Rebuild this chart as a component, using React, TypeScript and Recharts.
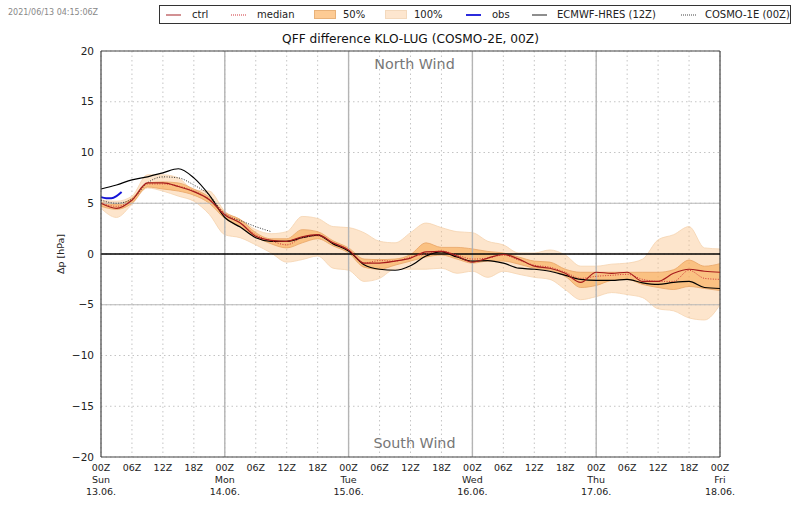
import React from 'react';
import { ComposedChart, Area, Line, XAxis, YAxis, CartesianGrid, ReferenceLine } from 'recharts';

// 3-hourly steps from Sun 13.06. 00Z
const hours = [0, 3, 6, 9, 12, 15, 18, 21, 24, 27, 30, 33, 36, 39, 42, 45, 48, 51, 54, 57, 60, 63, 66, 69, 72, 75, 78, 81, 84, 87, 90, 93, 96, 99, 102, 105, 108, 111, 114, 117, 120];

const ctrl = [5.0, 4.5, 5.3, 7.0, 7.0, 6.65, 6.15, 5.35, 3.85, 3.05, 1.75, 1.35, 1.25, 1.7, 1.9, 1.1, 0.4, -0.9, -0.9, -0.7, -0.4, 0.2, 0.25, -0.2, -0.8, -0.4, -0.05, -0.5, -1.2, -1.4, -1.9, -2.8, -1.8, -1.9, -1.8, -2.7, -2.7, -1.9, -1.5, -1.7, -1.8];
const median = [5.0, 4.7, 5.3, 6.9, 6.9, 6.7, 6.2, 5.4, 4.0, 3.1, 1.9, 1.3, 0.9, 1.6, 1.8, 1.1, 0.4, -0.9, -0.65, -0.7, -0.3, 0.0, 0.3, -0.1, -0.5, -0.4, -0.1, -0.6, -1.1, -1.3, -1.8, -2.4, -2.2, -2.1, -2.0, -2.5, -2.7, -2.7, -1.6, -2.4, -2.5];
const q50High = [5.1, 4.9, 5.5, 7.0, 7.1, 7.0, 6.4, 5.6, 4.1, 3.4, 2.1, 1.5, 1.5, 2.4, 2.2, 1.3, 0.6, -0.5, -0.55, -0.5, -0.05, 1.1, 0.65, 0.65, 0.5, 0.25, 0.1, -0.3, -0.7, -0.8, -1.5, -1.8, -1.8, -1.8, -1.8, -1.8, -1.8, -1.55, -0.6, -1.2, -0.95];
const q50Low = [4.7, 4.4, 5.0, 6.6, 6.4, 6.2, 5.8, 5.0, 3.5, 2.7, 1.7, 1.0, 0.6, 1.1, 1.5, 0.8, 0.1, -1.3, -1.5, -1.1, -0.7, -0.3, -0.1, -0.5, -0.9, -0.7, -0.7, -1.0, -1.4, -1.6, -2.2, -3.3, -3.1, -2.6, -2.5, -3.0, -3.3, -3.5, -3.2, -3.4, -3.6];
const fullHigh = [5.3, 5.2, 5.7, 7.8, 7.8, 7.5, 6.3, 6.2, 4.2, 3.4, 2.4, 2.0, 2.2, 3.7, 3.5, 2.7, 2.6, 2.1, 1.25, 1.1, 2.1, 3.05, 2.6, 2.2, 2.1, 1.25, 0.9, 0.1, 0.1, 0.4, -0.1, -1.2, -1.2, -1.0, -0.9, -0.5, 1.4, 1.9, 2.7, 0.6, 0.5];
const fullLow = [4.5, 3.6, 4.9, 6.5, 6.2, 5.7, 5.2, 3.9, 1.9, 1.6, 0.9, 0.1, -0.8, -0.55, -0.2, -1.4, -1.6, -2.7, -2.4, -1.5, -1.5, -1.5, -1.4, -1.9, -1.7, -2.3, -1.7, -2.0, -2.3, -2.5, -3.5, -4.5, -4.2, -3.8, -4.0, -4.3, -5.4, -5.6, -6.3, -6.5, -5.0];
const ecmwf = [6.4, 6.8, 7.3, 7.6, 8.0, 8.4, 7.5, 5.8, 3.6, 2.65, 1.6, 1.25, 1.25, 1.6, 1.85, 1.0, 0.3, -1.05, -1.5, -1.6, -1.15, -0.2, 0.2, -0.3, -0.7, -0.65, -0.9, -1.4, -1.5, -1.7, -2.1, -2.5, -2.6, -2.6, -2.5, -2.85, -3.0, -2.8, -2.7, -3.3, -3.4];
const cosmo1 = [5.3, 5.0, 5.4, 7.0, 7.6, 7.5, 6.8, 5.8, 3.9, 3.3, 2.7, 2.2];

const obsHours = [0, 1, 2, 3, 4];
const obsValues = [5.6, 5.5, 5.5, 5.7, 6.1];

const yTicks = [-20, -15, -10, -5, 0, 5, 10, 15, 20];
const xTicks = [0, 6, 12, 18, 24, 30, 36, 42, 48, 54, 60, 66, 72, 78, 84, 90, 96, 102, 108, 114, 120];
const hourLabels = ['00Z', '06Z', '12Z', '18Z'];
const dayNames = ['Sun', 'Mon', 'Tue', 'Wed', 'Thu', 'Fri'];
const dayDates = ['13.06.', '14.06.', '15.06.', '16.06.', '17.06.', '18.06.'];
const dayStarts = [0, 24, 48, 72, 96, 120];
const strongY = [-5, 5];

const table = hours.map((h, i) => ({
  hour: h,
  ctrl: ctrl[i],
  median: median[i],
  band50: [q50Low[i], q50High[i]],
  band100: [fullLow[i], fullHigh[i]],
  ecmwf: ecmwf[i],
  cosmo1: i < cosmo1.length ? cosmo1[i] : null,
}));
const obsTable = obsHours.map((h, i) => ({ hour: h, obs: obsValues[i] }));

const FONT = '"DejaVu Sans", sans-serif';
const TEXT = '#222';

function HourTick({ x, y, payload }: any) {
  const h = payload.value;
  const day = dayStarts.indexOf(h);
  return (
    <text x={x} y={y} textAnchor="middle" fontSize={9.5} fill={TEXT} fontFamily={FONT}>
      <tspan x={x} dy={6}>{hourLabels[(h % 24) / 6]}</tspan>
      {day >= 0 && <tspan x={x} dy={12}>{dayNames[day]}</tspan>}
      {day >= 0 && <tspan x={x} dy={12}>{dayDates[day]}</tspan>}
    </text>
  );
}

function LegendText({ x, children }: any) {
  return <span style={{ position: 'absolute', left: x, top: 2, fontSize: 10, color: TEXT, lineHeight: '14px', whiteSpace: 'nowrap' }}>{children}</span>;
}

function LegendLine({ x, color, dash, width = 1.2 }: any) {
  return (
    <svg width={16} height={4} style={{ position: 'absolute', left: x, top: 7 }}>
      <line x1={0} x2={15} y1={2} y2={2} stroke={color} strokeWidth={width} strokeDasharray={dash} />
    </svg>
  );
}

function LegendPatch({ x, color, border }: any) {
  return <span style={{ position: 'absolute', left: x, top: 4, width: 20, height: 7, background: color, border: `1px solid ${border}` }} />;
}

function ChartLegend() {
  return (
    <div style={{ position: 'absolute', left: 159, top: 5, width: 630, height: 17, border: '1px solid #333', background: '#fff' }}>
      <LegendLine x={6} color="#b5484c" />
      <LegendText x={32}>ctrl</LegendText>
      <LegendLine x={71} color="#d0353a" dash="1 1" />
      <LegendText x={97}>median</LegendText>
      <LegendPatch x={154} color="#fdcb94" border="#e8b27a" />
      <LegendText x={183}>50%</LegendText>
      <LegendPatch x={225} color="#fde6cf" border="#f3d9bd" />
      <LegendText x={254}>100%</LegendText>
      <LegendLine x={306} color="#1414d8" width={1.8} />
      <LegendText x={332}>obs</LegendText>
      <LegendLine x={372} color="#444" />
      <LegendText x={397}>ECMWF-HRES (12Z)</LegendText>
      <LegendLine x={521} color="#444" dash="1 1" />
      <LegendText x={545}>COSMO-1E (00Z)</LegendText>
    </div>
  );
}

export default function App() {
  return (
    <div style={{ position: 'absolute', left: 0, top: 0, width: 800, height: 509, background: '#fff', fontFamily: FONT }}>
      <ComposedChart width={800} height={509} data={table} margin={{ top: 51, right: 80, bottom: 0, left: 61 }}>
        <CartesianGrid stroke="#c4c4c4" strokeDasharray="1.5 3" />
        <XAxis
          dataKey="hour"
          type="number"
          domain={[0, 120]}
          ticks={xTicks}
          interval={0}
          height={52}
          tick={<HourTick />}
          tickLine={false}
          axisLine={{ stroke: '#444', strokeWidth: 1.2 }}
        />
        <YAxis
          type="number"
          domain={[-20, 20]}
          ticks={yTicks}
          interval={0}
          width={40}
          tickLine={false}
          tickMargin={1}
          axisLine={{ stroke: '#444', strokeWidth: 1.2 }}
          tick={{ fontSize: 10.5, fill: TEXT, fontFamily: FONT }}
          tickFormatter={(v: number) => String(v).replace('-', '\u2212')}
          label={{ value: '\u0394p [hPa]', angle: -90, position: 'insideLeft', offset: 0, style: { fontSize: 9.5, fill: TEXT, fontFamily: FONT, textAnchor: 'middle' } }}
        />
        {dayStarts.slice(1, 5).map((h) => (
          <ReferenceLine key={h} x={h} stroke="#b4b4b4" strokeWidth={1.4} />
        ))}
        {strongY.map((v) => (
          <ReferenceLine key={v} y={v} stroke="#b8b8b8" strokeWidth={1.2} />
        ))}
        <ReferenceLine y={20} stroke="#444" strokeWidth={1.2} />
        <ReferenceLine x={120} stroke="#444" strokeWidth={1.2} />
        <Area dataKey="band100" type="monotoneX" fill="#fbc68e" fillOpacity={0.45} stroke="#f5d3ae" strokeWidth={0.8} isAnimationActive={false} dot={false} activeDot={false} />
        <Area dataKey="band50" type="monotoneX" fill="#f8a850" fillOpacity={0.6} stroke="#e8a566" strokeWidth={0.8} isAnimationActive={false} dot={false} activeDot={false} />
        <ReferenceLine y={0} stroke="#000" strokeWidth={1.4} />
        <Line dataKey="cosmo1" type="monotoneX" stroke="#333" strokeWidth={1} strokeDasharray="1 1.5" dot={false} activeDot={false} isAnimationActive={false} />
        <Line dataKey="ecmwf" type="monotoneX" stroke="#000" strokeWidth={1.2} dot={false} activeDot={false} isAnimationActive={false} />
        <Line dataKey="median" type="monotoneX" stroke="#d0353a" strokeWidth={1} strokeDasharray="1 1.5" dot={false} activeDot={false} isAnimationActive={false} />
        <Line dataKey="ctrl" type="monotoneX" stroke="#a61c1c" strokeWidth={1.2} dot={false} activeDot={false} isAnimationActive={false} />
        <Line data={obsTable} dataKey="obs" type="monotoneX" stroke="#1414d8" strokeWidth={2} dot={false} activeDot={false} isAnimationActive={false} />
      </ComposedChart>
      <div style={{ position: 'absolute', left: 8, top: 8, fontSize: 8, color: '#888', whiteSpace: 'nowrap' }}>2021/06/13 04:15:06Z</div>
      <ChartLegend />
      <div style={{ position: 'absolute', left: 101, width: 619, top: 32, textAlign: 'center', fontSize: 12.2, color: '#111', whiteSpace: 'nowrap' }}>QFF difference KLO-LUG (COSMO-2E, 00Z)</div>
      <div style={{ position: 'absolute', left: 105, width: 619, top: 56, textAlign: 'center', fontSize: 14.3, color: '#777' }}>North Wind</div>
      <div style={{ position: 'absolute', left: 105, width: 619, top: 435, textAlign: 'center', fontSize: 14.3, color: '#777' }}>South Wind</div>
    </div>
  );
}
